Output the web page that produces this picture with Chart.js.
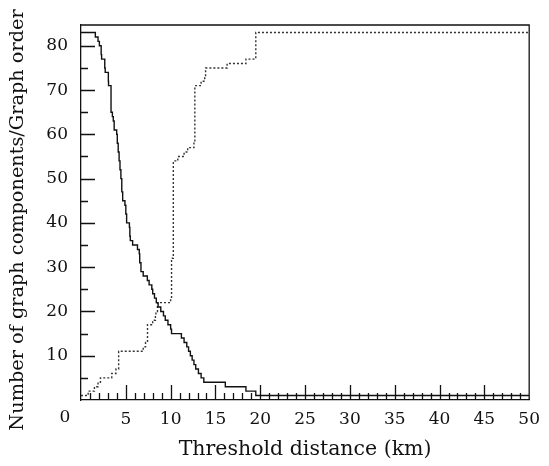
<!DOCTYPE html>
<html>
<head>
<meta charset="utf-8">
<script src="https://cdn.jsdelivr.net/npm/chart.js@4.4.1/dist/chart.umd.min.js"></script>
<style>
  html, body { margin: 0; padding: 0; background: #fff; }
  #wrap { width: 549px; height: 466px; }
</style>
</head>
<body>
<div id="wrap"><canvas id="chart" width="549" height="466"></canvas></div>
<script>
// Number of graph components vs threshold distance (step points: value becomes y at x)
const componentsX = [0, 1.6, 1.9, 2.05, 2.25, 2.3, 2.65, 2.7, 3.05, 3.07, 3.35, 3.5, 3.6, 3.7, 3.98, 4.05, 4.15, 4.25, 4.35, 4.45, 4.55, 4.65, 4.9, 5.0, 5.09, 5.4, 5.45, 5.5, 5.76, 6.3, 6.5, 6.55, 6.69, 6.94, 7.4, 7.6, 7.9, 8.0, 8.2, 8.4, 8.6, 8.9, 9.2, 9.4, 9.7, 10.0, 10.1, 11.2, 11.5, 11.8, 12.0, 12.2, 12.4, 12.6, 12.8, 13.1, 13.4, 13.7, 16.1, 18.4, 19.5, 50];
const componentsY = [83, 82, 81, 80, 78, 77, 75, 74, 72, 71, 65, 64, 63, 61, 60, 58, 56, 54, 52, 50, 47, 45, 44, 42, 40, 39, 37, 36, 35, 34, 33, 31, 29, 28, 27, 26, 25, 24, 23, 22, 21, 20, 19, 18, 17, 16, 15, 14, 13, 12, 11, 10, 9, 8, 7, 6, 5, 4, 3, 2, 1, 1];

// Graph order (size of largest component)
const orderX = [0, 0.8, 1.5, 1.9, 2.17, 3.43, 3.9, 4.2, 6.94, 7.2, 7.42, 8.0, 8.3, 8.36, 8.53, 10.0, 10.1, 10.3, 10.8, 11.1, 11.5, 11.9, 12.6, 12.7, 13.0, 13.4, 13.8, 13.9, 16.3, 18.4, 19.5, 50];
const orderY = [1, 2, 3, 4, 5, 6, 7, 11, 12, 13, 17, 18, 19, 20, 22, 23, 32, 54, 55, 55, 56, 57, 58, 71, 71, 72, 73, 75, 76, 77, 83, 83];

const xTicks = [0, 5, 10, 15, 20, 25, 30, 35, 40, 45, 50];
const yTicks = [10, 20, 30, 40, 50, 60, 70, 80];
const yTitle = 'Number of graph components/Graph order';

const serif = "'DejaVu Serif', 'Liberation Serif', serif";
const ink = '#111';

const toPoints = (xs, ys) => xs.map((x, i) => ({ x: x, y: ys[i] }));

// inward tick marks, box on top/right, corner label and y title
const frame = {
  id: 'frame',
  afterDatasetsDraw(chart) {
    const { ctx, chartArea: a, scales: { x, y } } = chart;
    ctx.save();
    ctx.strokeStyle = ink;
    ctx.lineWidth = 1.3;
    ctx.beginPath();
    for (let v = 5; v <= 80; v += 5) {
      const py = Math.round(y.getPixelForValue(v)) + 0.5;
      const len = v % 10 === 0 ? 14 : 7;
      ctx.moveTo(a.left, py);
      ctx.lineTo(a.left + len, py);
    }
    for (let v = 1; v < 50; v++) {
      const px = Math.round(x.getPixelForValue(v)) + 0.5;
      const len = v % 5 === 0 ? 15 : 7;
      ctx.moveTo(px, a.bottom);
      ctx.lineTo(px, a.bottom - len);
    }
    ctx.moveTo(a.left, a.top);
    ctx.lineTo(a.right, a.top);
    ctx.lineTo(a.right, a.bottom);
    ctx.stroke();

    ctx.fillStyle = ink;
    ctx.textAlign = 'center';
    ctx.textBaseline = 'middle';
    // the "0" sits left of the axis corner in the original
    ctx.font = '17px ' + serif;
    ctx.fillText('0', a.left - 16, 418);

    // y title, a little lower than the scale centre
    ctx.translate(18, 220);
    ctx.rotate(-Math.PI / 2);
    ctx.font = '19.3px ' + serif;
    ctx.fillText(yTitle, 0, 0);
    ctx.restore();
  }
};

new Chart(document.getElementById('chart'), {
  type: 'line',
  data: {
    datasets: [
      {
        label: 'Number of graph components',
        data: toPoints(componentsX, componentsY),
        stepped: 'before',
        borderColor: ink,
        borderWidth: 1.4,
        pointRadius: 0,
        fill: false
      },
      {
        label: 'Graph order',
        data: toPoints(orderX, orderY),
        stepped: 'before',
        borderColor: '#333',
        borderWidth: 1.4,
        borderDash: [2, 2],
        pointRadius: 0,
        fill: false
      }
    ]
  },
  options: {
    responsive: false,
    animation: false,
    layout: { padding: { left: 0, right: 17, top: 25, bottom: 0 } },
    plugins: {
      legend: { display: false },
      tooltip: { enabled: false }
    },
    scales: {
      x: {
        type: 'linear',
        min: 0,
        max: 50,
        afterFit: (s) => { s.height = 66; },
        afterBuildTicks: (s) => { s.ticks = xTicks.map(v => ({ value: v })); },
        ticks: {
          color: ink,
          font: { family: serif, size: 17 },
          padding: 9,
          maxRotation: 0,
          callback: (v) => (v === 0 ? '' : v)
        },
        grid: { display: true, drawOnChartArea: false, drawTicks: false },
        border: { color: ink, width: 1.3 },
        title: {
          display: true,
          text: 'Threshold distance (km)',
          color: ink,
          font: { family: serif, size: 20.5, lineHeight: 1.2 },
          padding: { top: 4, bottom: 4 }
        }
      },
      y: {
        type: 'linear',
        min: 0,
        max: 84.7,
        afterFit: (s) => { s.width = 81; },
        afterBuildTicks: (s) => { s.ticks = yTicks.map(v => ({ value: v })); },
        ticks: {
          color: ink,
          font: { family: serif, size: 17 },
          padding: 13
        },
        grid: { display: true, drawOnChartArea: false, drawTicks: false },
        border: { color: ink, width: 1.3 }
      }
    }
  },
  plugins: [frame]
});
</script>
</body>
</html>
